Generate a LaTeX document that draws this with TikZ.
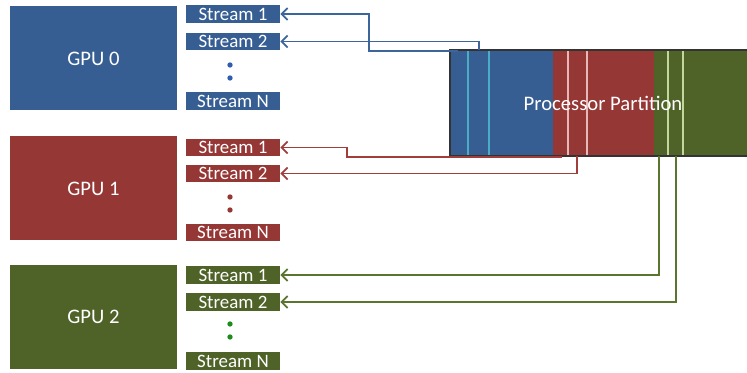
\documentclass[tikz,border=0pt]{standalone}
\usepackage{xcolor}
\usepackage{fontspec}
\setmainfont{Carlito}
\usepackage{tikz}
\usetikzlibrary{arrows.meta, positioning}

\definecolor{gpublue}{HTML}{375E92}
\definecolor{gpured}{HTML}{953735}
\definecolor{gpugreen}{HTML}{4F6228}
\definecolor{lineblue}{HTML}{3C659C}
\definecolor{linered}{HTML}{A03E3C}
\definecolor{linegreen}{HTML}{5B7530}
\definecolor{stripeblue}{HTML}{4BACC6}
\definecolor{stripered}{HTML}{E6B9B8}
\definecolor{stripegreen}{HTML}{C3D69B}
\definecolor{dotblue}{HTML}{2F5DB0}
\definecolor{dotred}{HTML}{953735}
\definecolor{dotgreen}{HTML}{1C8C1C}

\begin{document}
\begin{tikzpicture}
  [
    x=0.75pt, y=-0.75pt,
    Gpu/.style={rectangle, fill=#1, text=white, minimum width=125.25pt, minimum height=78pt, font=\fontsize{15.5}{18}\selectfont},
    Stream/.style={rectangle, fill=#1, text=white, inner sep=0pt, minimum width=70.5pt, minimum height=13pt, font=\fontsize{14.2}{16}\selectfont},
    Dot/.style={circle, fill=#1, inner sep=0pt, minimum size=4pt},
    Stripe/.style={draw=#1, line width=1.3pt},
    Feed/.style={draw=#1, line width=1.4pt, -{Straight Barb[length=4.5pt, width=9pt]}}
  ]
  \useasboundingbox (0,0) rectangle (747,373);

  % GPUs
  \node[Gpu=gpublue] (gpu0) at (93.5, 58.5) {GPU 0};
  \node[Gpu=gpured] (gpu1) at (93.5, 188.5) {GPU 1};
  \node[Gpu=gpugreen] (gpu2) at (93.5, 317) {GPU 2};

  % Streams
  \node[Stream=gpublue] (s01) at (233, 14) {Stream 1};
  \node[Stream=gpublue] (s02) at (233, 41.5) {Stream 2};
  \node[Dot=dotblue] (d01) at (230, 65) {};
  \node[Dot=dotblue] (d02) at (230, 78) {};
  \node[Stream=gpublue] (s0N) at (233, 101) {Stream N};

  \node[Stream=gpured] (s11) at (233, 147.5) {Stream 1};
  \node[Stream=gpured] (s12) at (233, 173.5) {Stream 2};
  \node[Dot=dotred] (d11) at (230, 197) {};
  \node[Dot=dotred] (d12) at (230, 210) {};
  \node[Stream=gpured] (s1N) at (233, 232.5) {Stream N};

  \node[Stream=gpugreen] (s21) at (233, 275) {Stream 1};
  \node[Stream=gpugreen] (s22) at (233, 302) {Stream 2};
  \node[Dot=dotgreen] (d21) at (230, 324) {};
  \node[Dot=dotgreen] (d22) at (230, 337) {};
  \node[Stream=gpugreen] (s2N) at (233, 361) {Stream N};

  % Partition
  \fill[gpublue] (450,50) rectangle (553,156);
  \fill[gpured] (553,50) rectangle (654,156);
  \fill[gpugreen] (654,50) rectangle (760,156);
  \foreach \px/\col in {468/stripeblue, 489/stripeblue, 568/stripered, 587/stripered, 668/stripegreen, 683/stripegreen}
    \draw[Stripe=\col] (\px,50) -- (\px,156);
  \node[draw=black!80, thick, minimum width=229.5pt, minimum height=79.5pt, text=white, font=\fontsize{15.5}{18}\selectfont] (part) at (603, 103) {Processor Partition};

  \coordinate (b1) at (458, 51);
  \coordinate (b2) at (479, 50);
  \coordinate (r1) at (562, 157);
  \coordinate (r2) at (577, 156);
  \coordinate (g1) at (659, 156);
  \coordinate (g2) at (676, 156);

  % Lines
  \path[Feed=lineblue] (b1) -- ++(-89,0) |- (s01.east);
  \path[Feed=lineblue] (b2) |- (s02.east);
  \path[Feed=linered] (r1) -- ++(-215,0) |- (s11.east);
  \path[Feed=linered] (r2) |- (s12.east);
  \path[Feed=linegreen] (g1) |- (s21.east);
  \path[Feed=linegreen] (g2) |- (s22.east);

\end{tikzpicture}
\end{document}
